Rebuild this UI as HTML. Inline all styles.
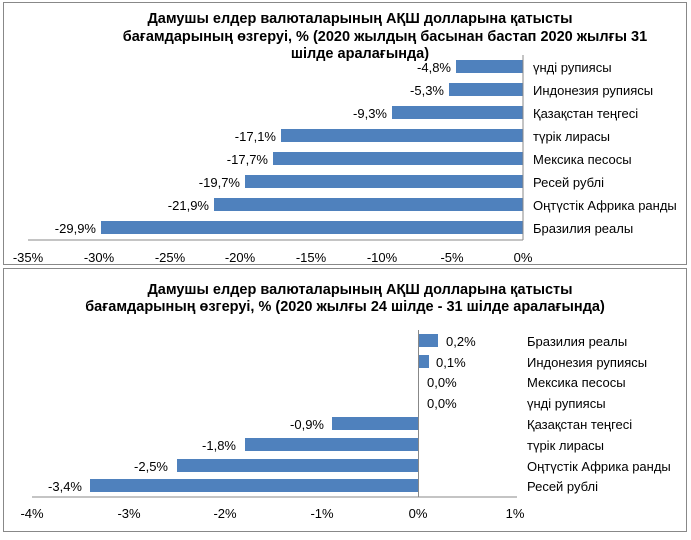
<!DOCTYPE html>
<html><head><meta charset="utf-8"><style>
body{margin:0;background:#fff;}
svg text{font-family:"Liberation Sans",sans-serif;fill:#000;}
</style></head><body>
<svg width="691" height="535" xmlns="http://www.w3.org/2000/svg">
<rect x="0" y="0" width="691" height="535" fill="#fff"/>
<rect x="3.5" y="2.5" width="683" height="262" fill="none" stroke="#888"/>
<rect x="3.5" y="268.5" width="683" height="263" fill="none" stroke="#888"/>
<g font-size="14.5" font-weight="bold" text-anchor="middle">
<text x="360" y="23">Дамушы елдер валюталарының АҚШ долларына қатысты</text>
<text x="385" y="41">бағамдарының өзгеруі, %  (2020 жылдың басынан бастап 2020 жылғы 31</text>
<text x="360" y="58">шілде аралағында)</text>
<text x="360" y="294">Дамушы елдер валюталарының АҚШ долларына қатысты</text>
<text x="345" y="311">бағамдарының өзгеруі, %  (2020 жылғы 24 шілде - 31 шілде аралағында)</text>
</g>
<g fill="#4f81bd">
<rect x="456" y="60" width="67" height="13"/>
<rect x="449" y="83" width="74" height="13"/>
<rect x="392" y="106" width="131" height="13"/>
<rect x="281" y="129" width="242" height="13"/>
<rect x="273" y="152" width="250" height="13"/>
<rect x="245" y="175" width="278" height="13"/>
<rect x="214" y="198" width="309" height="13"/>
<rect x="101" y="221" width="422" height="13"/>
</g>
<line x1="523" y1="55" x2="523" y2="240" stroke="#888"/>
<line x1="28" y1="240" x2="523" y2="240" stroke="#888"/>
<g font-size="13" text-anchor="end">
<text x="451" y="72">-4,8%</text>
<text x="444" y="95">-5,3%</text>
<text x="387" y="118">-9,3%</text>
<text x="276" y="141">-17,1%</text>
<text x="268" y="164">-17,7%</text>
<text x="240" y="187">-19,7%</text>
<text x="209" y="210">-21,9%</text>
<text x="96" y="233">-29,9%</text>
</g>
<g font-size="13">
<text x="533" y="72">үнді рупиясы</text>
<text x="533" y="95">Индонезия рупиясы</text>
<text x="533" y="118">Қазақстан теңгесі</text>
<text x="533" y="141">түрік лирасы</text>
<text x="533" y="164">Мексика песосы</text>
<text x="533" y="187">Ресей рублі</text>
<text x="533" y="210">Оңтүстік Африка ранды</text>
<text x="533" y="233">Бразилия реалы</text>
</g>
<g font-size="13" text-anchor="middle">
<text x="28" y="262">-35%</text><text x="99" y="262">-30%</text><text x="170" y="262">-25%</text>
<text x="240" y="262">-20%</text><text x="311" y="262">-15%</text><text x="382" y="262">-10%</text>
<text x="452" y="262">-5%</text><text x="523" y="262">0%</text>
</g>
<g fill="#4f81bd">
<rect x="419" y="334" width="19" height="13"/>
<rect x="419" y="355" width="10" height="13"/>
<rect x="332" y="417" width="86" height="13"/>
<rect x="245" y="438" width="173" height="13"/>
<rect x="177" y="459" width="241" height="13"/>
<rect x="90" y="479" width="328" height="13"/>
</g>
<line x1="418.5" y1="330" x2="418.5" y2="497" stroke="#888"/>
<line x1="32" y1="497" x2="517" y2="497" stroke="#888"/>
<g font-size="13">
<text x="446" y="346">0,2%</text>
<text x="436" y="367">0,1%</text>
<text x="427" y="387">0,0%</text>
<text x="427" y="408">0,0%</text>
</g>
<g font-size="13" text-anchor="end">
<text x="324" y="429">-0,9%</text>
<text x="236" y="450">-1,8%</text>
<text x="168" y="471">-2,5%</text>
<text x="82" y="491">-3,4%</text>
</g>
<g font-size="13">
<text x="527" y="346">Бразилия реалы</text>
<text x="527" y="367">Индонезия рупиясы</text>
<text x="527" y="387">Мексика песосы</text>
<text x="527" y="408">үнді рупиясы</text>
<text x="527" y="429">Қазақстан теңгесі</text>
<text x="527" y="450">түрік лирасы</text>
<text x="527" y="471">Оңтүстік Африка ранды</text>
<text x="527" y="491">Ресей рублі</text>
</g>
<g font-size="13" text-anchor="middle">
<text x="32" y="518">-4%</text><text x="129" y="518">-3%</text><text x="225" y="518">-2%</text>
<text x="322" y="518">-1%</text><text x="418" y="518">0%</text><text x="515" y="518">1%</text>
</g>
</svg>
</body></html>
